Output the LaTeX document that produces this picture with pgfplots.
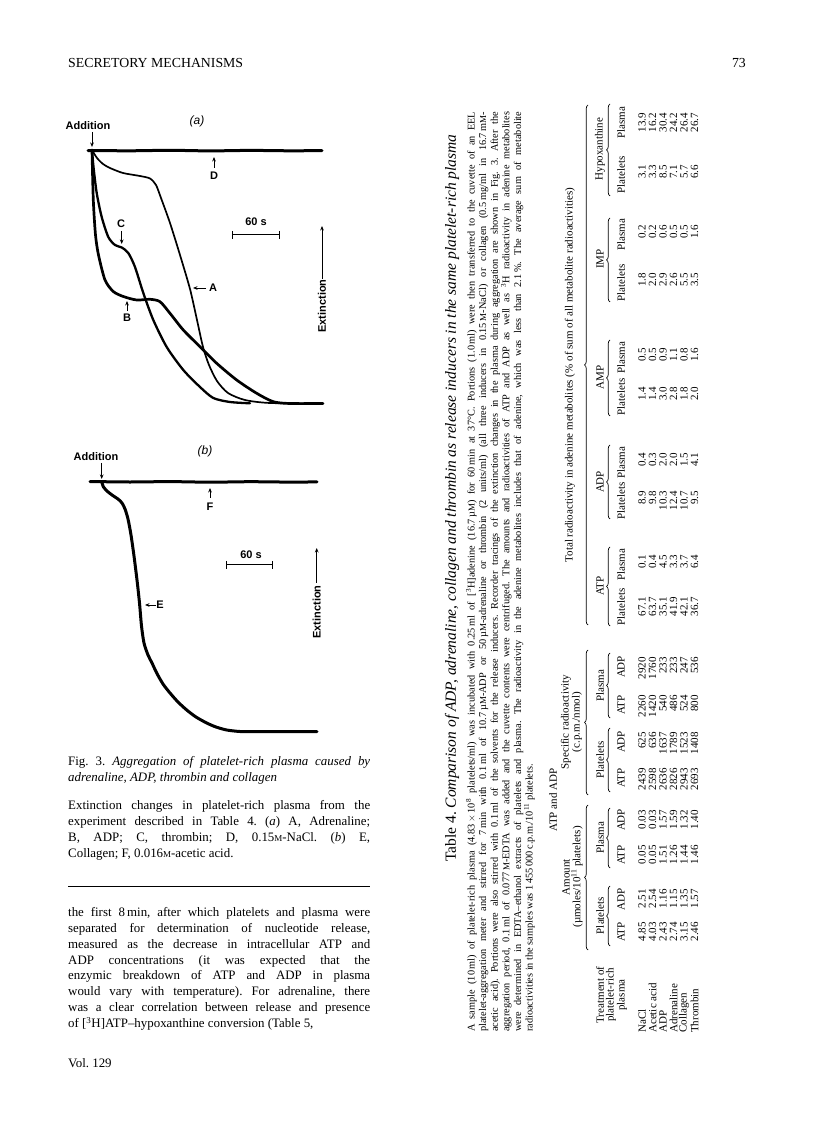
\documentclass[border=0pt]{standalone}
\usepackage{fontspec}
\setmainfont{Liberation Serif}
\newfontfamily\figsans{Liberation Sans}
\usepackage{pgfplots}
\pgfplotsset{compat=1.18}
\usetikzlibrary{decorations.pathreplacing,arrows.meta}

\newcommand\Msc{{\fontsize{9}{9}\selectfont M}}
\tikzset{
  trace/.style={black, line join=round, line cap=round, smooth, tension=0.45},
  lab/.style={-{Stealth[length=4.5pt,width=3.6pt]}, line width=0.9pt},
  fl/.style={font=\fontsize{11}{12}\selectfont\figsans\bfseries, inner sep=0},
  tab/.style={font=\fontsize{11}{12}\selectfont, inner sep=0, rotate=90},
  brc/.style={decorate, decoration={brace, amplitude=3.5pt}, line width=0.7pt},
}

\begin{document}
\frenchspacing
\begin{tikzpicture}
\useasboundingbox (0,0) rectangle (816pt,1136pt);
% traces: x and y in page pixels, y downwards
\begin{axis}[
  at={(0,0)}, anchor=south west,
  width=816pt, height=1136pt, scale only axis,
  xmin=0, xmax=816, ymin=0, ymax=1136, y dir=reverse,
  hide axis, clip=false,
]
% (a) D, 0.15M-NaCl
\addplot[trace, line width=3pt] coordinates {
(88,150.5) (130,150.8) (170,150.3) (210,150.9) (250,150.4) (290,150.8) (322,150.6)
};
% (a) A, adrenaline
\addplot[trace, line width=1.7pt] coordinates {
(92,150) (97,158) (103,164) (110,168) (123,173) (140,176) (150,178.5) (156,185)
(161,198) (170,223) (180,255) (190,289) (197,320) (203,347) (209,365) (217,381)
(228,393) (245,400) (270,403) (323,403.5)
};
% (a) C, thrombin
\addplot[trace, line width=2.3pt] coordinates {
(92,150) (93.5,167) (96.7,193) (101.7,217) (108.3,237) (115,245) (121.7,247.5)
(128.3,253) (135,267) (143.3,293) (153.3,320) (166.7,347) (183.3,370) (200,387)
(213.3,398) (230,402) (250,403.3)
};
% (a) B, ADP
\addplot[trace, line width=2.7pt] coordinates {
(92,150) (93.3,200) (95.5,235) (98.5,255) (105,280) (113.3,291.5) (123.3,296.5)
(136.7,300) (150,299.3) (160,301.7) (170,313.3) (183.3,330) (200,346.7) (216.7,363.3)
(236.7,380) (256.7,393.3) (273.3,401.7) (290,403.5) (323,403.5)
};
% (b) F, 0.016M-acetic acid
\addplot[trace, line width=3pt] coordinates {
(90,481.5) (130,482) (170,481.6) (210,482.2) (250,481.7) (290,482.1) (317,481.9)
};
% (b) E, collagen
\addplot[trace, line width=3pt] coordinates {
(101.7,481.7) (103.3,486.7) (107,491) (112,495) (118,499) (122,503) (125,509)
(128,519) (131,535) (134,556) (137,580) (139.5,603) (141.5,626) (144,643) (148,655)
(152,663) (156.7,673) (163,684) (170,693) (178,702) (186.7,710) (196,717)
(206.7,723) (216,727) (226.7,730) (240,731.5) (257,731.7) (317,731.7)
};
\end{axis}

\begin{scope}[yshift=1136pt, x=1pt, y=-1pt]
% running head
\node[anchor=base west, inner sep=0, font=\fontsize{13.8}{15}\selectfont] at (68,68) {SECRETORY MECHANISMS};
\node[anchor=base east, inner sep=0, font=\fontsize{13.8}{15}\selectfont] at (746,68) {73};

% ---- panel (a)
\node[fl] at (88,126) {Addition};
\draw[lab] (92,132) -- (92,147);
\node[font=\fontsize{12}{13}\selectfont\figsans\itshape, inner sep=0] at (197,121) {(a)};
\draw[lab] (214,168) -- (214,157);
\node[fl] at (214,176) {D};
\draw[lab] (121.7,231) -- (121.7,244);
\node[fl] at (121,224) {C};
\draw[lab] (127,311) -- (127,301);
\node[fl] at (127,318) {B};
\draw[lab] (206,288) -- (193,288);
\node[fl] at (213,288) {A};
\node[fl] at (256,222) {60 s};
\draw[line width=1pt] (232,235) -- (279,235) (232,231) -- (232,239) (279,231) -- (279,239);
\draw[lab] (322,279) -- (322,226);
\node[fl, rotate=90] at (322,306) {Extinction};

% ---- panel (b)
\node[fl] at (96,457) {Addition};
\draw[lab] (101.7,463) -- (101.7,479);
\node[font=\fontsize{12}{13}\selectfont\figsans\itshape, inner sep=0] at (205,451) {(b)};
\draw[lab] (210,498) -- (210,488);
\node[fl] at (210,507) {F};
\draw[lab] (156,605) -- (145,605);
\node[fl] at (160,605) {E};
\node[fl] at (251,555) {60 s};
\draw[line width=1pt] (226.7,565) -- (272.7,565) (226.7,561) -- (226.7,569) (272.7,561) -- (272.7,569);
\draw[lab] (316.7,583) -- (316.7,548);
\node[fl, rotate=90] at (316.7,612) {Extinction};

% ---- figure legend and text column
\node[anchor=north west, inner sep=0, text width=302pt, align=justify,
      font=\fontsize{12.9}{15.6}\selectfont] at (68,756.5)
  {Fig.~3. \textit{Aggregation of platelet-rich plasma caused by adrenaline, ADP, thrombin and collagen}};
\node[anchor=north west, inner sep=0, text width=302pt, align=justify,
      font=\fontsize{12.9}{15.9}\selectfont] at (68,800.5)
  {Extinction changes in platelet-rich plasma from the\linebreak
   experiment described in Table 4. (\textit{a}) A, Adrenaline;\linebreak
   B, ADP; C, thrombin; D, 0.15\Msc-NaCl. (\textit{b}) E,\linebreak
   Collagen; F, 0.016\Msc-acetic acid.};
\draw[line width=1pt] (68,887) -- (370,887);
\node[anchor=north west, inner sep=0, text width=302pt, align=justify,
      font=\fontsize{12.9}{15.8}\selectfont] at (68,907.5)
  {\parfillskip=0pt the first 8\,min, after which platelets and plasma were\linebreak
   separated for determination of nucleotide release,\linebreak
   measured as the decrease in intracellular ATP and\linebreak
   ADP concentrations (it was expected that the\linebreak
   enzymic breakdown of ATP and ADP in plasma\linebreak
   would vary with temperature). For adrenaline, there\linebreak
   was a clear correlation between release and presence\linebreak
   of [\textsuperscript{3}H]ATP--hypoxanthine conversion (Table 5,};
\node[anchor=base west, inner sep=0, font=\fontsize{12.9}{14}\selectfont] at (68,1068) {Vol. 129};

% ---- Table 4 (turned sideways)
\node[tab, anchor=west, font=\fontsize{15.5}{17}\selectfont] at (452,862)
  {Table 4. \textit{Comparison of ADP, adrenaline, collagen and thrombin as release inducers in the same platelet-rich plasma}};
\node[rotate=90, anchor=north west, inner sep=0, text width=920pt, align=justify,
      font=\fontsize{10.3}{11.6}\selectfont] at (466,1032)
  {\emergencystretch=2em A sample (10\,ml) of platelet-rich plasma (4.83\,$\times$\,10\textsuperscript{8} platelets/ml) was incubated with 0.25\,ml of [\textsuperscript{3}H]adenine (16.7\,µ\Msc) for 60\,min at 37°C. Portions (1.0\,ml) were then transferred to the cuvette of an EEL\linebreak
   platelet-aggregation meter and stirred for 7\,min with 0.1\,ml of 10.7\,µ\Msc-ADP or 50\,µ\Msc-adrenaline or thrombin (2 units/ml) (all three inducers in 0.15\,\Msc-NaCl) or collagen (0.5\,mg/ml in 16.7\,m\Msc-\linebreak
   acetic acid). Portions were also stirred with 0.1\,ml of the solvents for the release inducers. Recorder tracings of the extinction changes in the plasma during aggregation are shown in Fig. 3. After the\linebreak
   aggregation period, 0.1\,ml of 0.077\,\Msc-EDTA was added and the cuvette contents were centrifuged. The amounts and radioactivities of ATP and ADP as well as \textsuperscript{3}H radioactivity in adenine metabolites\linebreak
   were determined in EDTA--ethanol extracts of platelets and plasma. The radioactivity in the adenine metabolites includes that of adenine, which was less than 2.1\,\%. The average sum of metabolite\linebreak
   radioactivities in the samples was 1\,455\,000\,c.p.m./10\textsuperscript{11} platelets.};

\node[tab] at (553,800) {ATP and ADP};
% group headings
\node[tab] at (566,877) {Amount};
\node[tab] at (577,877) {(µmoles/10\textsuperscript{11} platelets)};
\node[tab] at (566,722) {Specific radioactivity};
\node[tab] at (577,722) {(c.p.m./nmol)};
\node[tab] at (570,375) {Total radioactivity in adenine metabolites (\% of sum of all metabolite radioactivities)};
\draw[brc] (588,950) -- (588,805);
\draw[brc] (588,795) -- (588,650);
\draw[brc] (588,625) -- (588,105);
% sub headings
\foreach \c/\t in {915.5/Platelets, 837.5/Plasma, 760/Platelets, 686/Plasma,
                   586/ATP, 482/ADP, 377.5/AMP, 259/IMP, 149/Hypoxanthine}
  \node[tab] at (600,\c) {\t};
\foreach \a/\b in {946/886, 868/808, 792/728, 718/653, 626/547, 519/445, 416/340, 302/218, 196/104}
  \draw[brc] (610,\a) -- (610,\b);
\foreach \c/\t in {932/ATP, 899/ADP, 855/ATP, 820/ADP, 778/ATP, 742/ADP, 705/ATP, 667/ADP,
                   607/Platelets, 565/Plasma, 501/Platelets, 463/Plasma, 397/Platelets, 358/Plasma,
                   283/Platelets, 235/Plasma, 175/Platelets, 123/Plasma}
  \node[tab] at (621,\c) {\t};
\node[tab] at (600,995) {Treatment of};
\node[tab] at (611,995) {platelet-rich};
\node[tab] at (622,995) {plasma};
% data rows
\foreach \x/\lab/\v in {
  642/NaCl/{4.85,2.51,0.05,0.03,2439,625,2260,2920,67.1,0.1,8.9,0.4,1.4,0.5,1.8,0.2,3.1,13.9},
  652.5/Acetic acid/{4.03,2.54,0.05,0.03,2598,636,1420,1760,63.7,0.4,9.8,0.3,1.4,0.5,2.0,0.2,3.3,16.2},
  663/ADP/{2.43,1.16,1.51,1.57,2636,1637,540,233,35.1,4.5,10.3,2.0,3.0,0.9,2.9,0.6,8.5,30.4},
  673.5/Adrenaline/{2.74,1.15,1.26,1.59,2826,1789,486,233,41.9,3.3,12.4,2.0,2.8,1.1,2.6,0.5,7.1,24.2},
  684/Collagen/{3.15,1.35,1.44,1.32,2943,1523,524,247,42.1,3.7,10.7,1.5,1.8,0.8,5.5,0.5,5.7,26.4},
  694.5/Thrombin/{2.46,1.57,1.46,1.40,2693,1408,800,536,36.7,6.4,9.5,4.1,2.0,1.6,3.5,1.6,6.6,26.7}}{
  \node[tab, anchor=west] at (\x,1033) {\lab};
  \foreach \val [count=\i] in \v {
    \pgfmathsetmacro\cy{{932,899,855,820,778,742,705,667,607,565,501,463,397,358,283,235,175,123}[\i-1]}
    \node[tab, anchor=east] at (\x,\cy-10) {\val};
  }
}
\end{scope}
\end{tikzpicture}
\end{document}
